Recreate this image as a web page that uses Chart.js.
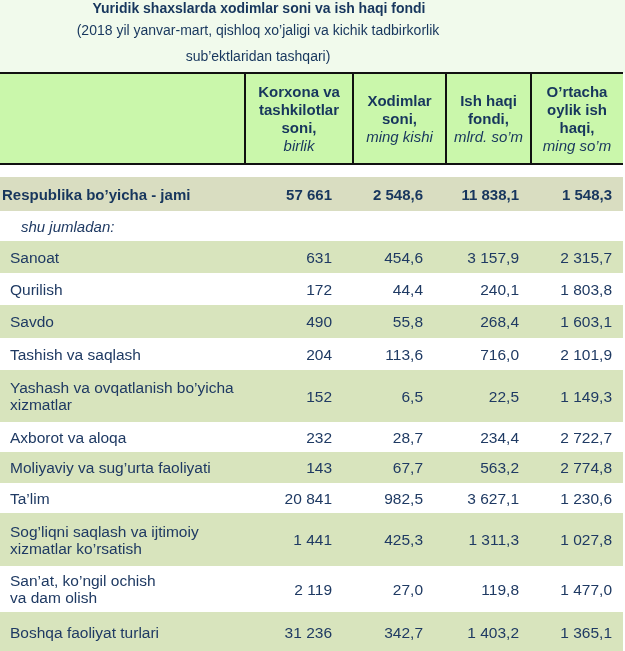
<!DOCTYPE html>
<html>
<head>
<meta charset="utf-8">
<script src="https://cdn.jsdelivr.net/npm/chart.js@4.4.0/dist/chart.umd.min.js"></script>
<style>
  html, body { margin: 0; padding: 0; background: #ffffff; }
  #wrap { width: 625px; height: 651px; position: relative; }
</style>
</head>
<body>
<div id="wrap"><canvas id="tableChart"></canvas></div>
<script>
// data
const title = "Yuridik shaxslarda xodimlar soni va ish haqi fondi";
const subtitle = ["(2018 yil yanvar-mart, qishloq xo’jaligi va kichik tadbirkorlik", "sub’ektlaridan tashqari)"];
const columnHeads = [["Korxona va", "tashkilotlar", "soni,"], ["Xodimlar", "soni,"], ["Ish haqi", "fondi,"], ["O’rtacha", "oylik ish", "haqi,"]];
const columnUnits = ["birlik", "ming kishi", "mlrd. so’m", "ming so’m"];
const totalLabel = "Respublika bo’yicha - jami";
const totalValues = [57661, 2548.6, 11838.1, 1548.3];
const subLabel = "shu jumladan:";
const categories = ["Sanoat", "Qurilish", "Savdo", "Tashish va saqlash",
  "Yashash va ovqatlanish bo’yicha\nxizmatlar", "Axborot va aloqa", "Moliyaviy va sug’urta faoliyati",
  "Ta’lim", "Sog’liqni saqlash va ijtimoiy\nxizmatlar ko’rsatish", "San’at, ko’ngil ochish\nva dam olish",
  "Boshqa faoliyat turlari"];
const korxona = [631, 172, 490, 204, 152, 232, 143, 20841, 1441, 2119, 31236];
const xodimlar = [454.6, 44.4, 55.8, 113.6, 6.5, 28.7, 67.7, 982.5, 425.3, 27.0, 342.7];
const ishHaqiFondi = [3157.9, 240.1, 268.4, 716.0, 22.5, 234.4, 563.2, 3627.1, 1311.3, 119.8, 1403.2];
const ortachaIshHaqi = [2315.7, 1803.8, 1603.1, 2101.9, 1149.3, 2722.7, 2774.8, 1230.6, 1027.8, 1477.0, 1365.1];
const decimals = [0, 1, 1, 1];

// layout (pixel units of the hidden scales)
const W = 625, H = 651;
const tableRight = 623;
const headTop = 73, headBottom = 164;
const colLines = [245, 353, 446, 531];
const valueRight = [332, 423, 519, 612];
const totalRow = [177, 211];
const subRow = [211, 241];
const rowEdges = [241, 273, 305, 338, 370, 422, 452, 483, 513, 566, 612, 655];

const textColor = "#1f3a63";
const headColor = "#17365d";
const fontFam = "'Liberation Sans', Arial, sans-serif";

function fmt(v, d) {
  let parts = v.toFixed(d).split(".");
  parts[0] = parts[0].replace(/\B(?=(\d{3})+(?!\d))/g, " ");
  return parts.join(",");
}

const tablePlugin = {
  id: "tablePlugin",
  beforeDatasetsDraw(chart) {
    const ctx = chart.ctx;
    const x = chart.scales.x, y = chart.scales.y;
    function box(x0, y0, x1, y1, color) {
      ctx.fillStyle = color;
      ctx.fillRect(x.getPixelForValue(x0), y.getPixelForValue(y0),
        x.getPixelForValue(x1) - x.getPixelForValue(x0), y.getPixelForValue(y1) - y.getPixelForValue(y0));
    }
    ctx.save();
    box(0, 0, W, headTop, "#f1faec");         // title area
    box(0, headTop, tableRight, headBottom, "#caf7ab"); // header
    box(0, totalRow[0], tableRight, totalRow[1], "#d9ddc1");
    for (let i = 0; i < categories.length; i++) {
      if (i % 2 === 0) box(0, rowEdges[i], tableRight, rowEdges[i + 1], "#d8e4bd");
    }
    // header lines
    ctx.strokeStyle = "#111111";
    ctx.lineWidth = 2;
    ctx.beginPath();
    ctx.moveTo(x.getPixelForValue(0), y.getPixelForValue(headTop));
    ctx.lineTo(x.getPixelForValue(tableRight), y.getPixelForValue(headTop));
    ctx.moveTo(x.getPixelForValue(0), y.getPixelForValue(headBottom));
    ctx.lineTo(x.getPixelForValue(tableRight), y.getPixelForValue(headBottom));
    colLines.forEach(c => {
      ctx.moveTo(x.getPixelForValue(c), y.getPixelForValue(headTop));
      ctx.lineTo(x.getPixelForValue(c), y.getPixelForValue(headBottom));
    });
    ctx.stroke();
    ctx.restore();
  },
  afterDatasetsDraw(chart) {
    const ctx = chart.ctx;
    const x = chart.scales.x, y = chart.scales.y;
    function txt(s, px, py, align) {
      ctx.textAlign = align;
      ctx.fillText(s, x.getPixelForValue(px), y.getPixelForValue(py));
    }
    ctx.save();
    ctx.textBaseline = "alphabetic";
    // title
    ctx.fillStyle = headColor;
    ctx.font = "bold 14px " + fontFam;
    txt(title, 259, 12.5, "center");
    ctx.font = "14px " + fontFam;
    txt(subtitle[0], 258, 35, "center");
    txt(subtitle[1], 258, 61, "center");

    // column heads
    const headMid = (headTop + headBottom) / 2;
    for (let c = 0; c < columnHeads.length; c++) {
      let left = colLines[c];
      let right = c === columnHeads.length - 1 ? tableRight : colLines[c + 1];
      let cx = (left + right) / 2;
      let lines = columnHeads[c].length + 1;
      let top = headMid - (lines - 1) * 18 / 2;
      ctx.font = "bold 15px " + fontFam;
      columnHeads[c].forEach((s, k) => txt(s, cx, top + k * 18 + 5.5, "center"));
      ctx.font = "italic 15px " + fontFam;
      txt(columnUnits[c], cx, top + (lines - 1) * 18 + 5.5, "center");
    }

    // total row
    ctx.fillStyle = headColor;
    ctx.font = "bold 15px " + fontFam;
    let tMid = (totalRow[0] + totalRow[1]) / 2;
    txt(totalLabel, 2, tMid + 5.5, "left");
    totalValues.forEach((v, c) => txt(fmt(v, decimals[c]), valueRight[c], tMid + 5.5, "right"));

    ctx.fillStyle = textColor;
    ctx.font = "italic 15px " + fontFam;
    txt(subLabel, 21, (subRow[0] + subRow[1]) / 2 + 5.5, "left");

    // rows
    ctx.font = "15.5px " + fontFam;
    const cols = [korxona, xodimlar, ishHaqiFondi, ortachaIshHaqi];
    for (let i = 0; i < categories.length; i++) {
      let mid = (rowEdges[i] + rowEdges[i + 1]) / 2;
      if (i === categories.length - 1) mid = 632;
      let lines = categories[i].split("\n");
      let top = mid - (lines.length - 1) * 17 / 2;
      lines.forEach((s, k) => txt(s, 10, top + k * 17 + 5.5, "left"));
      cols.forEach((arr, c) => txt(fmt(arr[i], decimals[c]), valueRight[c], mid + 5.5, "right"));
    }
    ctx.restore();
  }
};

new Chart(document.getElementById("tableChart"), {
  type: "scatter",
  data: { datasets: [{ data: [] }] },
  options: {
    responsive: true,
    maintainAspectRatio: false,
    animation: false,
    layout: { padding: 0 },
    plugins: { legend: { display: false }, tooltip: { enabled: false } },
    scales: {
      x: { type: "linear", min: 0, max: W, display: false },
      y: { type: "linear", min: 0, max: H, reverse: true, display: false }
    }
  },
  plugins: [tablePlugin]
});
</script>
</body>
</html>
